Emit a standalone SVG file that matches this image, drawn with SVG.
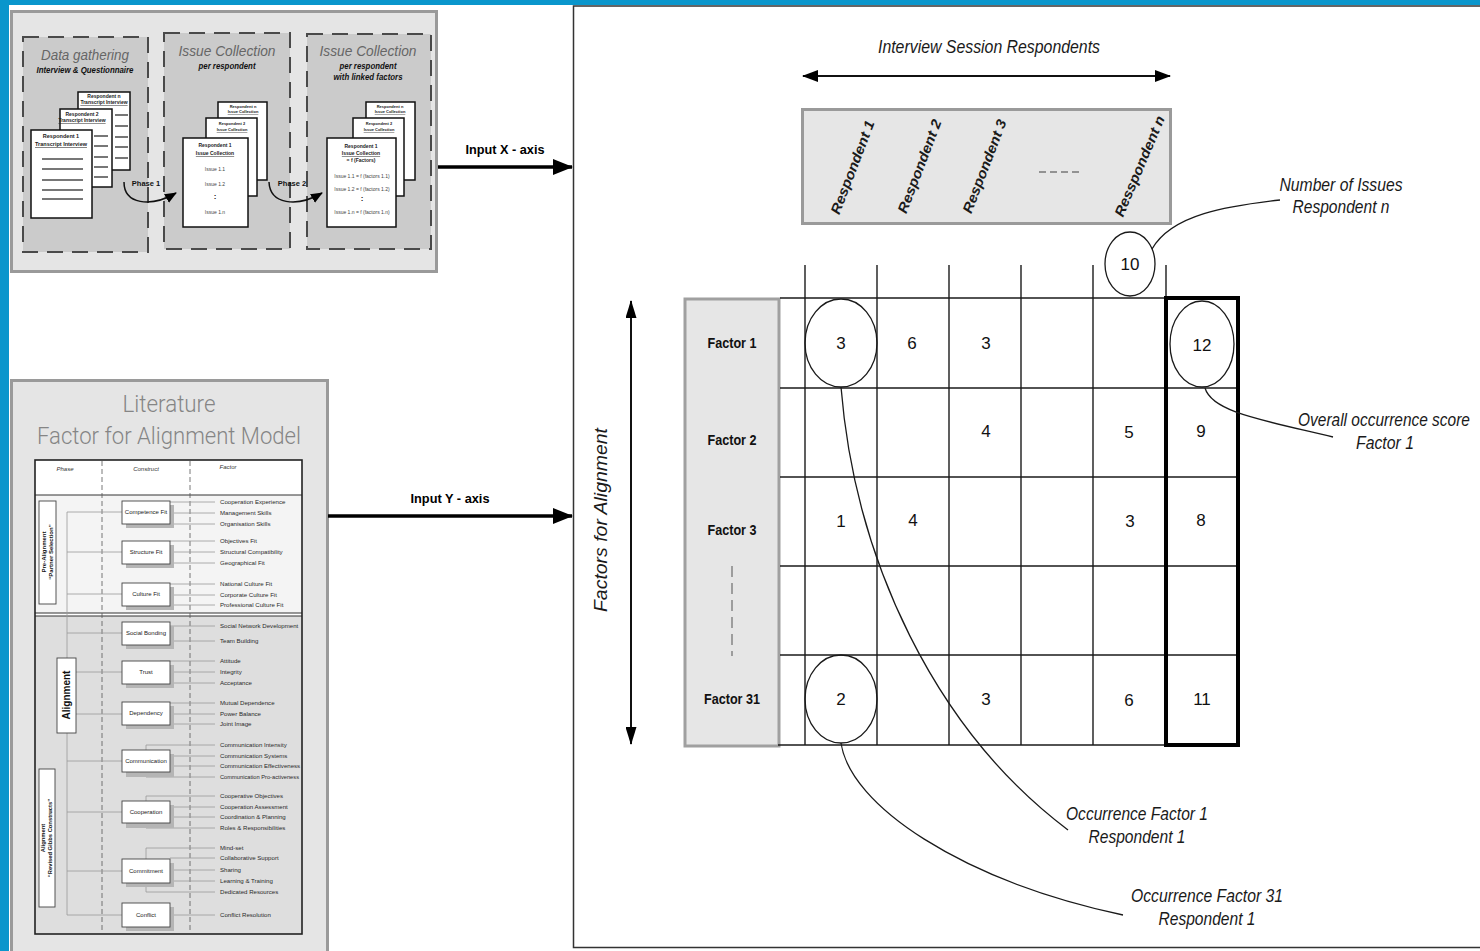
<svg xmlns="http://www.w3.org/2000/svg" width="1480" height="951" viewBox="0 0 1480 951">
  <style>
    text { font-family: "Liberation Sans", Arial, sans-serif; }
    .panel { fill: #e5e5e5; stroke: #9a9a9a; stroke-width: 3; }
    .col { fill: #cbcbcb; stroke: #4a4a4a; stroke-width: 2; stroke-dasharray: 16 9; }
    .coltitle { font-size: 15px; font-style: italic; fill: #666; text-anchor: middle; }
    .colsub { font-size: 8.5px; font-style: italic; font-weight: bold; fill: #111; text-anchor: middle; }
    .doc { fill: #fff; stroke: #111; stroke-width: 1.5; }
    .docline { stroke: #777; stroke-width: 2; }
    .dt { font-size: 5px; font-weight: bold; fill: #222; text-anchor: middle; }
    .dtu { font-size: 5px; font-weight: bold; fill: #222; text-anchor: middle; text-decoration: underline; }
    .dti { font-size: 5px; fill: #444; text-anchor: middle; }
    .phase { font-size: 7.5px; font-weight: bold; fill: #111; text-anchor: middle; }
    .flow { fill: none; stroke: #111; stroke-width: 1.5; }
    .axislabel { font-size: 13px; font-weight: bold; fill: #000; text-anchor: middle; }
    .bigarrow { stroke: #000; stroke-width: 3.5; fill: none; }
    .littitle { font-family: Roboto, "Liberation Sans", sans-serif; font-weight: 300; font-size: 24px; fill: #858585; text-anchor: middle; }
    .hdr { font-size: 6px; font-style: italic; fill: #333; text-anchor: middle; }
    .vdash { stroke: #555; stroke-width: 0.8; stroke-dasharray: 5 3; }
    .tree { stroke: #9a9a9a; stroke-width: 0.8; fill: none; }
    .cbox { fill: #fff; stroke: #444; stroke-width: 0.9; }
    .cshadow { fill: #b5b5b5; }
    .ctext { font-size: 6px; fill: #222; text-anchor: middle; }
    .ftext { font-size: 6.1px; fill: #2a2a2a; }
    .pbox { fill: #fff; stroke: #444; stroke-width: 0.9; }
    .ptext { font-size: 6px; font-weight: bold; fill: #111; text-anchor: middle; }
    .frame { fill: #fff; stroke: #333; stroke-width: 1.5; }
    .ital { font-size: 18px; font-style: italic; fill: #1a1a1a; text-anchor: middle; }
    .resp { font-size: 14px; font-style: italic; font-weight: bold; fill: #1a1a1a; text-anchor: middle; }
    .grid { stroke: #1a1a1a; stroke-width: 1.4; }
    .fact { font-size: 14px; font-weight: bold; fill: #111; text-anchor: middle; }
    .num { font-size: 17px; fill: #111; text-anchor: middle; }
    .ring { fill: none; stroke: #1a1a1a; stroke-width: 1.3; }
    .lead { fill: none; stroke: #1a1a1a; stroke-width: 1.3; }
    .thin { stroke: #111; stroke-width: 2; fill: none; }
  </style>
  <defs>
    <marker id="headBig" viewBox="0 0 20 16" refX="19" refY="8" markerWidth="20" markerHeight="16" markerUnits="userSpaceOnUse" orient="auto">
      <path d="M0,0 L20,8 L0,16 Z" fill="#000"/>
    </marker>
    <marker id="headMed" viewBox="0 0 16 12" refX="15" refY="6" markerWidth="16" markerHeight="12" markerUnits="userSpaceOnUse" orient="auto-start-reverse">
      <path d="M0,0 L16,6 L0,12 Z" fill="#000"/>
    </marker>
    <marker id="headTall" viewBox="0 0 18 11" refX="17" refY="5.5" markerWidth="18" markerHeight="11" markerUnits="userSpaceOnUse" orient="auto-start-reverse">
      <path d="M0,0 L18,5.5 L0,11 Z" fill="#000"/>
    </marker>
    <marker id="headSmall" viewBox="0 0 12 10" refX="11" refY="5" markerWidth="12" markerHeight="10" markerUnits="userSpaceOnUse" orient="auto">
      <path d="M0,0 L12,5 L0,10 Z" fill="#000"/>
    </marker>
  </defs>

  <!-- page background and blue edge -->
  <rect x="0" y="0" width="1480" height="951" fill="#fff"/>
  <rect x="0" y="0" width="1480" height="5" fill="#0a96cc"/>
  <rect x="0" y="0" width="9" height="951" fill="#0a96cc"/>

  <!-- ============ Process panel (top left) ============ -->
  <g id="process-panel">
    <rect class="panel" x="11.5" y="11.5" width="425" height="260"/>

    <g id="col-data-gathering">
      <rect class="col" x="23" y="37" width="125" height="215"/>
      <text class="coltitle" x="85" y="60" textLength="88" lengthAdjust="spacingAndGlyphs">Data gathering</text>
      <text class="colsub" x="85" y="73" textLength="97" lengthAdjust="spacingAndGlyphs">Interview &amp; Questionnaire</text>
      <rect class="doc" x="78" y="92" width="52" height="78"/>
      <text class="dt" x="104" y="98">Respondent n</text>
      <text class="dtu" x="104" y="104">Transcript Interview</text>
      <line class="docline" x1="115" y1="115" x2="128" y2="115"/>
      <line class="docline" x1="115" y1="126" x2="128" y2="126"/>
      <line class="docline" x1="115" y1="137" x2="128" y2="137"/>
      <line class="docline" x1="115" y1="147" x2="128" y2="147"/>
      <line class="docline" x1="115" y1="158" x2="128" y2="158"/>
      <rect class="doc" x="60" y="109" width="52" height="78"/>
      <text class="dt" x="82" y="116">Respondent 2</text>
      <text class="dtu" x="82" y="122">Transcript Interview</text>
      <line class="docline" x1="94" y1="136" x2="108" y2="136"/>
      <line class="docline" x1="94" y1="146" x2="108" y2="146"/>
      <line class="docline" x1="94" y1="157" x2="108" y2="157"/>
      <line class="docline" x1="94" y1="167" x2="108" y2="167"/>
      <line class="docline" x1="94" y1="177" x2="108" y2="177"/>
      <rect class="doc" x="31" y="130" width="61" height="88"/>
      <text class="dt" x="61" y="138" style="font-size:5.5px">Respondent 1</text>
      <text class="dtu" x="61" y="146" style="font-size:5.5px">Transcript Interview</text>
      <line class="docline" x1="42" y1="159" x2="83" y2="159"/>
      <line class="docline" x1="42" y1="169" x2="83" y2="169"/>
      <line class="docline" x1="42" y1="180" x2="83" y2="180"/>
      <line class="docline" x1="42" y1="190" x2="83" y2="190"/>
      <line class="docline" x1="42" y1="199" x2="83" y2="199"/>
    </g>

    <g id="col-issue-collection">
      <rect class="col" x="164" y="33" width="126" height="216"/>
      <text class="coltitle" x="227" y="56" textLength="97" lengthAdjust="spacingAndGlyphs">Issue Collection</text>
      <text class="colsub" x="227" y="69" textLength="57" lengthAdjust="spacingAndGlyphs">per respondent</text>
      <rect class="doc" x="218" y="102" width="49" height="78"/>
      <text class="dt" x="243" y="108" style="font-size:4px">Respondent n</text>
      <text class="dtu" x="243" y="113" style="font-size:4px">Issue Collection</text>
      <rect class="doc" x="206" y="118" width="51" height="78"/>
      <text class="dt" x="232" y="125" style="font-size:4px">Respondent 2</text>
      <text class="dtu" x="232" y="131" style="font-size:4px">Issue Collection</text>
      <rect class="doc" x="183" y="138" width="65" height="89"/>
      <text class="dt" x="215" y="147">Respondent 1</text>
      <text class="dtu" x="215" y="155">Issue Collection</text>
      <text class="dti" x="215" y="171">Issue 1.1</text>
      <text class="dti" x="215" y="186">Issue 1.2</text>
      <text class="dt" x="215" y="199" style="font-size:8px">:</text>
      <text class="dti" x="215" y="214">Issue 1.n</text>
    </g>

    <g id="col-linked-factors">
      <rect class="col" x="307" y="34" width="124" height="215"/>
      <text class="coltitle" x="368" y="56" textLength="97" lengthAdjust="spacingAndGlyphs">Issue Collection</text>
      <text class="colsub" x="368" y="69" textLength="57" lengthAdjust="spacingAndGlyphs">per respondent</text>
      <text class="colsub" x="368" y="80" textLength="69" lengthAdjust="spacingAndGlyphs">with linked factors</text>
      <rect class="doc" x="366" y="102" width="49" height="78"/>
      <text class="dt" x="390" y="108" style="font-size:4px">Respondent n</text>
      <text class="dtu" x="390" y="113" style="font-size:4px">Issue Collection</text>
      <rect class="doc" x="353" y="118" width="51" height="78"/>
      <text class="dt" x="379" y="125" style="font-size:4px">Respondent 2</text>
      <text class="dtu" x="379" y="131" style="font-size:4px">Issue Collection</text>
      <rect class="doc" x="327" y="138" width="69" height="89"/>
      <text class="dt" x="361" y="148">Respondent 1</text>
      <text class="dtu" x="361" y="155">Issue Collection</text>
      <text class="dt" x="361" y="162">= f (Factors)</text>
      <text class="dti" x="362" y="178">Issue 1.1 = f (factors 1.1)</text>
      <text class="dti" x="362" y="191">Issue 1.2 = f (factors 1.2)</text>
      <text class="dt" x="362" y="201" style="font-size:8px">:</text>
      <text class="dti" x="362" y="214">Issue 1.n = f (factors 1.n)</text>
    </g>

    <g id="phase-arrows">
      <path class="flow" d="M124,182 C124,204 150,208 176,193" marker-end="url(#headSmall)"/>
      <text class="phase" x="146" y="186">Phase 1</text>
      <path class="flow" d="M269,182 C270,204 296,208 322,193" marker-end="url(#headSmall)"/>
      <text class="phase" x="292" y="186">Phase 2</text>
    </g>
  </g>

  <!-- ============ Literature panel (bottom left) ============ -->
  <g id="literature-panel">
    <rect class="panel" x="11.5" y="380.5" width="316" height="580"/>
    <text class="littitle" x="169" y="412" textLength="93" lengthAdjust="spacingAndGlyphs">Literature</text>
    <text class="littitle" x="169" y="444" textLength="264" lengthAdjust="spacingAndGlyphs">Factor for Alignment Model</text>

    <!-- table -->
    <rect x="35" y="460" width="267" height="474" fill="#fff"/>
    <rect x="35" y="495" width="267" height="118" fill="#f4f4f4"/>
    <rect x="35" y="616" width="267" height="318" fill="#dedede"/>
    <line x1="35" y1="495" x2="302" y2="495" stroke="#333" stroke-width="1"/>
    <line x1="35" y1="613" x2="302" y2="613" stroke="#333" stroke-width="1"/>
    <line x1="35" y1="616" x2="302" y2="616" stroke="#333" stroke-width="1"/>
    <line class="vdash" x1="102" y1="461" x2="102" y2="933"/>
    <line class="vdash" x1="190" y1="461" x2="190" y2="933"/>
    <rect x="35" y="460" width="267" height="474" fill="none" stroke="#222" stroke-width="1.6"/>
    <text class="hdr" x="65" y="471">Phase</text>
    <text class="hdr" x="146" y="471">Construct</text>
    <text class="hdr" x="228" y="469">Factor</text>

    <!-- tree from phases to constructs -->
    <g id="lit-tree">
      <line class="tree" x1="67" y1="512" x2="67" y2="915"/>
      <line class="tree" x1="67" y1="512" x2="122" y2="512"/>
      <line class="tree" x1="67" y1="552" x2="122" y2="552"/>
      <line class="tree" x1="67" y1="594" x2="122" y2="594"/>
      <line class="tree" x1="67" y1="633" x2="122" y2="633"/>
      <line class="tree" x1="67" y1="672" x2="122" y2="672"/>
      <line class="tree" x1="67" y1="714" x2="122" y2="714"/>
      <line class="tree" x1="67" y1="761" x2="122" y2="761"/>
      <line class="tree" x1="67" y1="812" x2="122" y2="812"/>
      <line class="tree" x1="67" y1="871" x2="122" y2="871"/>
      <line class="tree" x1="67" y1="915" x2="122" y2="915"/>
      <!-- construct to factor leads -->
      <path class="tree" d="M146,502 H215 M170,513 H215 M160,524 H215"/>
      <path class="tree" d="M170,541 H215 M170,552 H215 M160,563 H215"/>
      <path class="tree" d="M170,584 H215 M170,595 H215 M160,605 H215"/>
      <path class="tree" d="M146,622 V626 H215 M170,641 H215"/>
      <path class="tree" d="M160,661 H215 M170,672 H215 M170,683 H215"/>
      <path class="tree" d="M160,703 H215 M170,714 H215 M160,724 H215"/>
      <path class="tree" d="M146,750 V745 H215 M170,756 H215 M170,766 H215 M146,772 V777 H215"/>
      <path class="tree" d="M146,801 V796 H215 M170,807 H215 M170,817 H215 M146,823 V828 H215"/>
      <path class="tree" d="M146,859 V848 H215 M170,858 H215 M170,870 H215 M170,881 H215 M146,883 V892 H215"/>
      <path class="tree" d="M170,915 H215"/>
    </g>

    <!-- phase boxes -->
    <g id="phase-pre-alignment">
      <rect class="pbox" x="39" y="501" width="17" height="103"/>
      <text class="ptext" transform="translate(46,552) rotate(-90)">Pre-Alignment</text>
      <text class="ptext" transform="translate(53,552) rotate(-90)">“Partner Selection”</text>
    </g>
    <g id="phase-alignment">
      <rect class="pbox" x="57" y="658" width="19" height="75"/>
      <text class="ptext" style="font-size:10px" transform="translate(70,695) rotate(-90)">Alignment</text>
    </g>
    <g id="phase-revised">
      <rect class="pbox" x="39" y="769" width="16" height="138"/>
      <text class="ptext" style="font-size:5.8px" transform="translate(45,838) rotate(-90)">Alignment</text>
      <text class="ptext" style="font-size:5.8px" transform="translate(52,838) rotate(-90)">“Revised Gibbs Constructs”</text>
    </g>

    <!-- constructs -->
    <g id="construct-competence"><rect class="cshadow" x="126" y="505" width="48" height="23"/><rect class="cbox" x="122" y="501" width="48" height="23"/><text class="ctext" x="146" y="514">Competence Fit</text></g>
    <g id="construct-structure"><rect class="cshadow" x="126" y="545" width="48" height="23"/><rect class="cbox" x="122" y="541" width="48" height="23"/><text class="ctext" x="146" y="554">Structure Fit</text></g>
    <g id="construct-culture"><rect class="cshadow" x="126" y="587" width="48" height="23"/><rect class="cbox" x="122" y="583" width="48" height="23"/><text class="ctext" x="146" y="596">Culture Fit</text></g>
    <g id="construct-social"><rect class="cshadow" x="126" y="626" width="48" height="23"/><rect class="cbox" x="122" y="622" width="48" height="23"/><text class="ctext" x="146" y="635">Social Bonding</text></g>
    <g id="construct-trust"><rect class="cshadow" x="126" y="665" width="48" height="23"/><rect class="cbox" x="122" y="661" width="48" height="23"/><text class="ctext" x="146" y="674">Trust</text></g>
    <g id="construct-dependency"><rect class="cshadow" x="126" y="706" width="48" height="23"/><rect class="cbox" x="122" y="702" width="48" height="23"/><text class="ctext" x="146" y="715">Dependency</text></g>
    <g id="construct-communication"><rect class="cshadow" x="126" y="754" width="48" height="23"/><rect class="cbox" x="122" y="750" width="48" height="22"/><text class="ctext" x="146" y="763">Communication</text></g>
    <g id="construct-cooperation"><rect class="cshadow" x="126" y="805" width="48" height="23"/><rect class="cbox" x="122" y="801" width="48" height="22"/><text class="ctext" x="146" y="814">Cooperation</text></g>
    <g id="construct-commitment"><rect class="cshadow" x="126" y="863" width="48" height="24"/><rect class="cbox" x="122" y="859" width="48" height="24"/><text class="ctext" x="146" y="873">Commitment</text></g>
    <g id="construct-conflict"><rect class="cshadow" x="126" y="907" width="48" height="24"/><rect class="cbox" x="122" y="903" width="48" height="24"/><text class="ctext" x="146" y="917">Conflict</text></g>

    <!-- factors -->
    <g id="lit-factors">
      <text class="ftext" x="220" y="504">Cooperation Experience</text>
      <text class="ftext" x="220" y="515">Management Skills</text>
      <text class="ftext" x="220" y="526">Organisation Skills</text>
      <text class="ftext" x="220" y="543">Objectives Fit</text>
      <text class="ftext" x="220" y="554">Structural Compatibility</text>
      <text class="ftext" x="220" y="565">Geographical Fit</text>
      <text class="ftext" x="220" y="586">National Culture Fit</text>
      <text class="ftext" x="220" y="597">Corporate Culture Fit</text>
      <text class="ftext" x="220" y="607">Professional Culture Fit</text>
      <text class="ftext" x="220" y="628">Social Network Development</text>
      <text class="ftext" x="220" y="643">Team Building</text>
      <text class="ftext" x="220" y="663">Attitude</text>
      <text class="ftext" x="220" y="674">Integrity</text>
      <text class="ftext" x="220" y="685">Acceptance</text>
      <text class="ftext" x="220" y="705">Mutual Dependence</text>
      <text class="ftext" x="220" y="716">Power Balance</text>
      <text class="ftext" x="220" y="726">Joint Image</text>
      <text class="ftext" x="220" y="747">Communication Intensity</text>
      <text class="ftext" x="220" y="758">Communication Systems</text>
      <text class="ftext" x="220" y="768">Communication Effectiveness</text>
      <text class="ftext" x="220" y="779" textLength="79" lengthAdjust="spacingAndGlyphs">Communication Pro-activeness</text>
      <text class="ftext" x="220" y="798">Cooperative Objectives</text>
      <text class="ftext" x="220" y="809">Cooperation Assessment</text>
      <text class="ftext" x="220" y="819">Coordination &amp; Planning</text>
      <text class="ftext" x="220" y="830">Roles &amp; Responsibilities</text>
      <text class="ftext" x="220" y="850">Mind-set</text>
      <text class="ftext" x="220" y="860">Collaborative Support</text>
      <text class="ftext" x="220" y="872">Sharing</text>
      <text class="ftext" x="220" y="883">Learning &amp; Training</text>
      <text class="ftext" x="220" y="894">Dedicated Resources</text>
      <text class="ftext" x="220" y="917">Conflict Resolution</text>
    </g>
  </g>

  <!-- ============ Input arrows ============ -->
  <g id="connectors">
    <line class="bigarrow" x1="438" y1="167" x2="572" y2="167" marker-end="url(#headBig)"/>
    <line class="bigarrow" x1="328" y1="516" x2="572" y2="516" marker-end="url(#headBig)"/>
  </g>
  <text class="axislabel" x="505" y="154" textLength="79" lengthAdjust="spacingAndGlyphs">Input X - axis</text>
  <text class="axislabel" x="450" y="503" textLength="79" lengthAdjust="spacingAndGlyphs">Input Y - axis</text>

  <!-- ============ Occurrence matrix (right) ============ -->
  <g id="matrix-panel">
    <rect class="frame" x="573.5" y="6" width="920" height="941.5"/>

    <g id="respondent-axis">
      <text class="ital" x="989" y="53" textLength="222" lengthAdjust="spacingAndGlyphs">Interview Session Respondents</text>
      <line class="thin" x1="803" y1="76" x2="1170" y2="76" marker-start="url(#headMed)" marker-end="url(#headMed)"/>
      <rect x="802.5" y="109.5" width="368" height="114" fill="#e6e6e6" stroke="#9a9a9a" stroke-width="3"/>
      <text class="resp" transform="translate(857,169) rotate(-69)" textLength="99" lengthAdjust="spacingAndGlyphs">Respondent 1</text>
      <text class="resp" transform="translate(924,168) rotate(-69)" textLength="99" lengthAdjust="spacingAndGlyphs">Respondent 2</text>
      <text class="resp" transform="translate(989,168) rotate(-69)" textLength="99" lengthAdjust="spacingAndGlyphs">Respondent 3</text>
      <line x1="1039" y1="172" x2="1082" y2="172" stroke="#777" stroke-width="1.3" stroke-dasharray="7 4"/>
      <text class="resp" transform="translate(1144,168) rotate(-67)" textLength="108" lengthAdjust="spacingAndGlyphs">Resspondent n</text>
    </g>

    <g id="factor-axis">
      <line class="thin" x1="631" y1="301" x2="631" y2="744" marker-start="url(#headTall)" marker-end="url(#headTall)"/>
      <text class="ital" transform="translate(607,520) rotate(-90)" textLength="184" lengthAdjust="spacingAndGlyphs">Factors for Alignment</text>
      <rect x="685" y="299" width="94" height="447" fill="#e6e6e6" stroke="#a0a0a0" stroke-width="3"/>
      <text class="fact" x="732" y="348" textLength="49" lengthAdjust="spacingAndGlyphs">Factor 1</text>
      <text class="fact" x="732" y="445" textLength="49" lengthAdjust="spacingAndGlyphs">Factor 2</text>
      <text class="fact" x="732" y="535" textLength="49" lengthAdjust="spacingAndGlyphs">Factor 3</text>
      <line x1="732" y1="566" x2="732" y2="656" stroke="#555" stroke-width="1" stroke-dasharray="11 6"/>
      <text class="fact" x="732" y="704" textLength="56" lengthAdjust="spacingAndGlyphs">Factor 31</text>
    </g>

    <g id="grid">
      <line class="grid" x1="805" y1="265" x2="805" y2="745"/>
      <line class="grid" x1="877" y1="265" x2="877" y2="745"/>
      <line class="grid" x1="949" y1="265" x2="949" y2="745"/>
      <line class="grid" x1="1021" y1="265" x2="1021" y2="745"/>
      <line class="grid" x1="1093" y1="265" x2="1093" y2="745"/>
      <line class="grid" x1="1166" y1="265" x2="1166" y2="298"/>
      <line class="grid" x1="780" y1="298" x2="1238" y2="298"/>
      <line class="grid" x1="780" y1="388" x2="1238" y2="388"/>
      <line class="grid" x1="780" y1="477" x2="1238" y2="477"/>
      <line class="grid" x1="780" y1="566" x2="1238" y2="566"/>
      <line class="grid" x1="780" y1="655" x2="1238" y2="655"/>
      <line class="grid" x1="778" y1="745" x2="1238" y2="745"/>
      <rect x="1166" y="298" width="72" height="447" fill="none" stroke="#000" stroke-width="4"/>
    </g>

    <g id="cell-values">
      <text class="num" x="841" y="349">3</text>
      <text class="num" x="912" y="349">6</text>
      <text class="num" x="986" y="349">3</text>
      <text class="num" x="1202" y="351">12</text>
      <text class="num" x="986" y="437">4</text>
      <text class="num" x="1129" y="438">5</text>
      <text class="num" x="1201" y="437">9</text>
      <text class="num" x="841" y="527">1</text>
      <text class="num" x="913" y="526">4</text>
      <text class="num" x="1130" y="527">3</text>
      <text class="num" x="1201" y="526">8</text>
      <text class="num" x="841" y="705">2</text>
      <text class="num" x="986" y="705">3</text>
      <text class="num" x="1129" y="706">6</text>
      <text class="num" x="1202" y="705">11</text>
      <text class="num" x="1130" y="270">10</text>
    </g>

    <g id="highlights">
      <ellipse class="ring" cx="841" cy="343" rx="36" ry="44"/>
      <ellipse class="ring" cx="841" cy="699" rx="36" ry="44"/>
      <ellipse class="ring" cx="1202" cy="344" rx="32" ry="43"/>
      <ellipse class="ring" cx="1130" cy="264" rx="25" ry="32"/>
    </g>

    <g id="callouts">
      <path class="lead" d="M1152,249 C1172,214 1228,206 1280,200"/>
      <text class="ital" x="1341" y="191" textLength="123" lengthAdjust="spacingAndGlyphs">Number of Issues</text>
      <text class="ital" x="1341" y="213" textLength="97" lengthAdjust="spacingAndGlyphs">Respondent n</text>

      <path class="lead" d="M1205,388 C1212,412 1262,420 1333,437"/>
      <text class="ital" transform="translate(1384,426) scale(0.86,1)">Overall occurrence score</text>
      <text class="ital" x="1385" y="449" textLength="58" lengthAdjust="spacingAndGlyphs">Factor 1</text>

      <path class="lead" d="M841,387 C855,560 935,730 1068,830"/>
      <text class="ital" x="1137" y="820" textLength="142" lengthAdjust="spacingAndGlyphs">Occurrence Factor 1</text>
      <text class="ital" x="1137" y="843" textLength="97" lengthAdjust="spacingAndGlyphs">Respondent 1</text>

      <path class="lead" d="M841,743 C850,805 960,880 1123,915"/>
      <text class="ital" x="1207" y="902" textLength="152" lengthAdjust="spacingAndGlyphs">Occurrence Factor 31</text>
      <text class="ital" x="1207" y="925" textLength="97" lengthAdjust="spacingAndGlyphs">Respondent 1</text>
    </g>
  </g>
</svg>
